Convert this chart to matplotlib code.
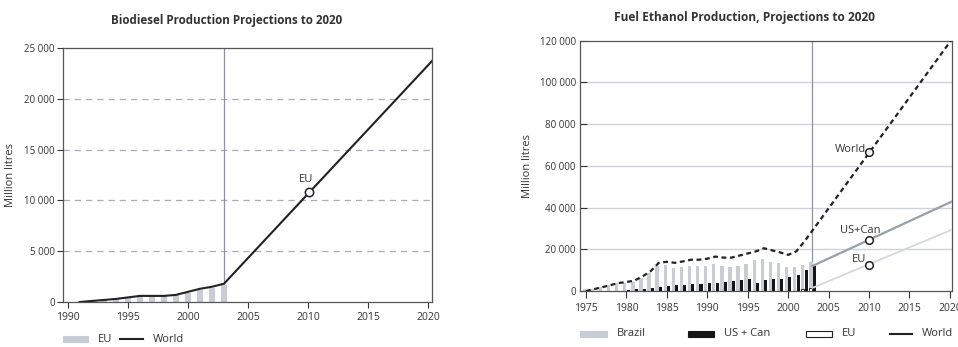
import matplotlib
matplotlib.use('Agg')
import matplotlib.pyplot as plt
from matplotlib.patches import Rectangle
from matplotlib.lines import Line2D

plt.rcParams['font.family'] = ['Open Sans', 'DejaVu Sans']

# ---- Biodiesel data (million litres) ----
bio_years = [1991, 1992, 1993, 1994, 1995, 1996, 1997, 1998, 1999, 2000, 2001, 2002, 2003]
bio_eu = [50, 100, 200, 300, 400, 550, 550, 550, 700, 900, 1200, 1400, 1700]
bio_world = [0, 100, 200, 300, 450, 600, 600, 600, 700, 1000, 1300, 1500, 1800]
bio_proj_years = [2003, 2020.3]
bio_proj_world = [1800, 23700]
bio_eu_2010 = 10800

# ---- Fuel ethanol data (million litres) ----
eth_years = list(range(1975, 2004))
eth_brazil = [800, 1100, 2000, 2900, 3700, 4000, 4500, 6000, 8500, 12200, 12500, 11000,
              11500, 12000, 12000, 12000, 12800, 12000, 11500, 12000, 13000, 14800, 15400,
              14000, 13500, 11700, 11500, 12500, 13800]
eth_uscan = [0, 0, 0, 0, 0, 700, 800, 1000, 1500, 1700, 2400, 2700, 3000, 3200, 3500,
             3700, 3700, 4200, 4700, 5300, 5600, 4000, 5100, 5700, 5900, 6600, 7500,
             10000, 12000]
eth_eu = [0, 0, 0, 0, 0, 0, 0, 0, 0, 0, 0, 0, 0, 0, 0, 0, 0, 0, 0, 0, 0, 0, 0,
          0, 0, 0, 0, 1000, 1600]
eth_world = [0, 900, 1800, 2800, 3800, 4300, 5000, 7000, 9500, 13500, 14000, 13500,
             14200, 15000, 15000, 15500, 16500, 16000, 16000, 17000, 18000, 19000, 20500,
             19500, 18500, 17300, 19000, 23700, 29000]
proj_years = [2003, 2020.3]
proj_world = [29000, 121000]
proj_uscan = [12000, 43000]
proj_eu = [1500, 29500]
marks_2010 = {'World': 66400, 'US+Can': 24500, 'EU': 12600}

TXT = '#333333'
SPINE = '#555555'
GREY_BAR = '#c8ccd4'
BLACK_BAR = '#151515'

W, H = 958, 347

fig = plt.figure(figsize=(9.58, 3.47), dpi=100)
fig.patch.set_facecolor('white')


def px(x, y):
    """pixel coords (from top-left) -> figure fraction"""
    return x / W, 1 - y / H


def legend_patch(x0, x1, y, label, face, edge=None):
    fx0, fy = px(x0, y)
    fx1, _ = px(x1, y)
    h = 6 / H
    fig.add_artist(Rectangle((fx0, fy - h / 2), fx1 - fx0, h, transform=fig.transFigure,
                             facecolor=face, edgecolor=edge if edge else face, lw=0.8))
    tx, ty = px(x1 + 10, y)
    fig.text(tx, ty, label, fontsize=8, color=TXT, ha='left', va='center')


def legend_line(x0, x1, y, label):
    fx0, fy = px(x0, y)
    fx1, _ = px(x1, y)
    fig.add_artist(Line2D([fx0, fx1], [fy, fy], transform=fig.transFigure,
                          color='#222222', lw=1.5))
    tx, ty = px(x1 + 10, y)
    fig.text(tx, ty, label, fontsize=8, color=TXT, ha='left', va='center')


# ================= Biodiesel =================
ax1 = fig.add_axes([0.0658, 0.1297, 0.385, 0.732])
ax1.bar(bio_years, bio_eu, width=0.45, color=GREY_BAR, zorder=2)
ax1.plot(bio_years + bio_proj_years[1:], bio_world + bio_proj_world[1:],
         color='#222222', lw=1.5, zorder=3)
ax1.axvline(2003, color='#8a93a0', lw=0.9, zorder=1)
ax1.plot([2010.1], [bio_eu_2010], 'o', ms=6, mfc='white', mec='#222222', mew=1.1, zorder=4)
ax1.text(2009.8, bio_eu_2010 + 700, 'EU', fontsize=8, color=TXT, ha='center', va='bottom')

ax1.set_xlim(1989.6, 2020.3)
ax1.set_ylim(0, 25000)
ax1.set_xticks(range(1990, 2021, 5))
ax1.set_yticks(range(0, 25001, 5000))
ax1.set_yticklabels(['0', '5 000', '10 000', '15 000', '20 000', '25 000'])
for y in range(5000, 25000, 5000):
    ax1.axhline(y, color='#a8adb8', lw=0.9, ls=(0, (5, 4)), zorder=0)
ax1.set_ylabel('Million litres', fontsize=8, color=TXT)
ax1.yaxis.set_label_coords(-0.128, 0.5)
ax1.tick_params(axis='y', labelsize=7, colors=TXT, length=4, width=0.8, direction='out', pad=2)
ax1.tick_params(axis='x', labelsize=7.5, colors=TXT, length=4, width=0.8, direction='out')
for s in ax1.spines.values():
    s.set_color(SPINE)
    s.set_linewidth(0.9)
fig.text(0.236, 0.94, 'Biodiesel Production Projections to 2020', fontsize=8.4,
         color=TXT, ha='center', va='center', fontweight='bold')

legend_patch(63, 88, 339, 'EU', GREY_BAR)
legend_line(120, 143, 339, 'World')

# ================= Fuel ethanol =================
ax2 = fig.add_axes([0.6054, 0.1614, 0.3883, 0.7213])
ax2.bar([y - 0.2 for y in eth_years], eth_brazil, width=0.42, color=GREY_BAR, zorder=2)
ax2.bar([y + 0.22 for y in eth_years], eth_uscan, width=0.38, color=BLACK_BAR, zorder=3)
ax2.bar([y - 0.2 for y in eth_years], eth_eu, width=0.36, color='white',
        edgecolor='#222222', lw=0.7, zorder=3)
ax2.plot(eth_years + proj_years[1:], eth_world + proj_world[1:], color='#222222',
         lw=1.6, ls=(0, (2.2, 1.6)), zorder=4)
ax2.plot(proj_years, proj_uscan, color='#9aa0aa', lw=1.6, zorder=3)
ax2.plot(proj_years, proj_eu, color='#d4d8de', lw=1.3, zorder=3)
ax2.axvline(2003, color='#8a93a0', lw=0.9, zorder=1)
for v in marks_2010.values():
    ax2.plot([2010], [v], 'o', ms=5.5, mfc='white', mec='#222222', mew=1.1, zorder=5)
ax2.text(2009.6, marks_2010['World'] + 1200, 'World', fontsize=8, color=TXT,
         ha='right', va='center')
ax2.text(2008.9, marks_2010['US+Can'] + 4500, 'US+Can', fontsize=8, color=TXT,
         ha='center', va='center')
ax2.text(2009.6, marks_2010['EU'] + 2500, 'EU', fontsize=8, color=TXT,
         ha='right', va='center')

ax2.set_xlim(1974.26, 2020.25)
ax2.set_ylim(0, 120000)
ax2.set_xticks(range(1975, 2021, 5))
ax2.set_yticks(range(0, 120001, 20000))
ax2.set_yticklabels(['0', '20 000', '40 000', '60 000', '80 000', '100 000', '120 000'])
for y in range(20000, 120000, 20000):
    ax2.axhline(y, color='#cfd2d8', lw=1.0, zorder=0)
ax2.set_ylabel('Million litres', fontsize=8, color=TXT)
ax2.yaxis.set_label_coords(-0.126, 0.5)
ax2.tick_params(axis='y', labelsize=7, colors=TXT, length=5, width=0.8, direction='in', pad=3)
ax2.tick_params(axis='x', labelsize=7.5, colors=TXT, length=5, width=0.8, direction='out')
for s in ax2.spines.values():
    s.set_color(SPINE)
    s.set_linewidth(0.9)
fig.text(0.777, 0.95, 'Fuel Ethanol Production, Projections to 2020', fontsize=8.6,
         color=TXT, ha='center', va='center', fontweight='bold')

legend_patch(580, 607, 334, 'Brazil', GREY_BAR)
legend_patch(688, 714, 334, 'US + Can', BLACK_BAR)
legend_patch(806, 832, 334, 'EU', 'white', edge='#222222')
legend_line(890, 912, 334, 'World')

fig.savefig('out.png', dpi=100, facecolor='white')
